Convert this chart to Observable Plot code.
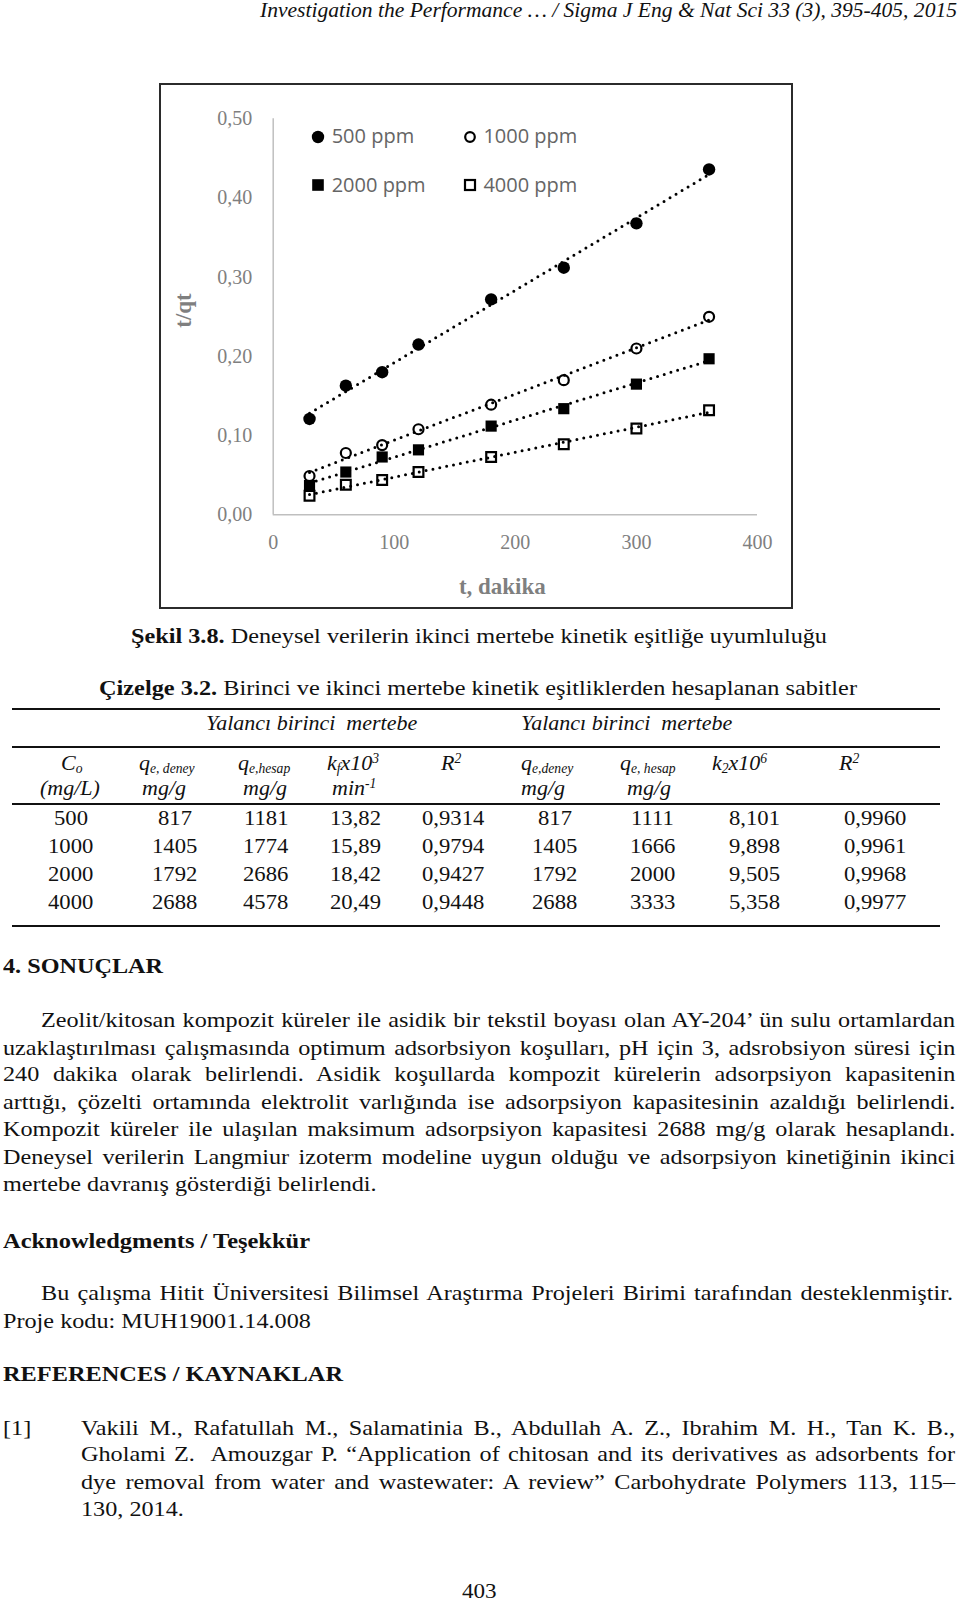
<!DOCTYPE html>
<html>
<head>
<meta charset="utf-8">
<script src="https://cdn.jsdelivr.net/npm/d3@7"></script>
<script src="https://cdn.jsdelivr.net/npm/@observablehq/plot@0.6"></script>
<style>
  html, body { margin:0; padding:0; background:#fff; }
  #page { position:relative; width:960px; height:1603px; overflow:hidden; background:#fff; color:#111; }
  .t { position:absolute; white-space:nowrap; }
  sub, sup { position:relative; vertical-align:baseline; line-height:0; font-size:0.62em; }
  sub { top:0.28em; }
  sup { top:-0.48em; }
  .rule { position:absolute; background:#111; }
  #frame { position:absolute; left:159px; top:83px; width:634px; height:526px; box-sizing:border-box; border:2px solid #2b2b2b; background:#fff; }
  #frame svg { position:absolute; left:0; top:0; }
</style>
</head>
<body>
<div id="page"><div id="frame"></div></div>
<script>
// ---------------- chart data ----------------
const times = [30, 60, 90, 120, 180, 240, 300, 360];
const series500 = [0.121, 0.163, 0.180, 0.215, 0.272, 0.312, 0.368, 0.436];
const series1000 = [0.049, 0.078, 0.088, 0.108, 0.139, 0.170, 0.210, 0.250];
const series2000 = [0.037, 0.054, 0.073, 0.082, 0.112, 0.134, 0.165, 0.197];
const series4000 = [0.024, 0.038, 0.044, 0.054, 0.073, 0.089, 0.109, 0.132];
const seriesNames = ["500 ppm", "1000 ppm", "2000 ppm", "4000 ppm"];
const xTicks = [0, 100, 200, 300, 400];
const yTicks = [0, 0.1, 0.2, 0.3, 0.4, 0.5];

// ---------------- table data ----------------
const tabCo = ["500", "1000", "2000", "4000"];
const tabQeDeney = ["817", "1405", "1792", "2688"];
const tabQeHesap1 = ["1181", "1774", "2686", "4578"];
const tabK1 = ["13,82", "15,89", "18,42", "20,49"];
const tabR2a = ["0,9314", "0,9794", "0,9427", "0,9448"];
const tabQeHesap2 = ["1111", "1666", "2000", "3333"];
const tabK2 = ["8,101", "9,898", "9,505", "5,358"];
const tabR2b = ["0,9960", "0,9961", "0,9968", "0,9977"];

const page = document.getElementById("page");
const SERIF = "'Liberation Serif','Times New Roman',serif";
const SANS = "'Open Sans','Noto Sans',sans-serif";
const STRETCH = 1.1;

function place(html, o) {
  const el = document.createElement("div");
  el.className = "t";
  el.innerHTML = html;
  const size = o.size || 22;
  const asc = o.asc || 0.8375;
  el.style.fontFamily = o.family || SERIF;
  el.style.fontSize = size + "px";
  el.style.lineHeight = size + "px";
  el.style.top = (o.baseline - asc * size) + "px";
  if (o.weight) el.style.fontWeight = o.weight;
  if (o.style) el.style.fontStyle = o.style;
  if (o.color) el.style.color = o.color;
  el.style.left = "0px";
  page.appendChild(el);
  let w = el.getBoundingClientRect().width;
  let sx = o.sx || 1;
  if (o.fit) sx = o.fit / w;
  if (sx !== 1) { el.style.transformOrigin = "0 0"; el.style.transform = `scaleX(${sx})`; }
  w = w * sx;
  let left;
  if (o.align === "center") left = o.x - w / 2;
  else if (o.align === "right") left = o.x - w;
  else left = o.x;
  el.style.left = left + "px";
  return el;
}

function justify(html, x0, x1, baseline, o = {}) {
  const el = place(html, Object.assign({x: x0, baseline}, o));
  const w = el.getBoundingClientRect().width; // unscaled (no transform yet)
  const n = (el.textContent.match(/[ \u00a0]/g) || []).length;
  const target = x1 - x0;
  let sx = Math.min(STRETCH, target / w);
  const rest = target / sx - w;
  if (rest > 0 && n) el.style.wordSpacing = (rest / n) + "px";
  el.style.transformOrigin = "0 0";
  el.style.transform = `scaleX(${sx})`;
  return el;
}

function rule(y, h, x0 = 12, x1 = 940) {
  const r = document.createElement("div");
  r.className = "rule";
  r.style.left = x0 + "px"; r.style.width = (x1 - x0) + "px";
  r.style.top = y + "px"; r.style.height = h + "px";
  page.appendChild(r);
}

// ---------------- chart ----------------
const seriesValues = [series500, series1000, series2000, series4000];
const rows = [];
seriesNames.forEach((name, s) => seriesValues[s].forEach((v, i) => rows.push({series: name, t: times[i], q: v})));
const of = name => rows.filter(d => d.series === name);

const chart = Plot.plot({
  width: 630,
  height: 522,
  marginLeft: 111.7,
  marginRight: 34,
  marginTop: 33.3,
  marginBottom: 92.7,
  x: {domain: [0, 400]},
  y: {domain: [0, 0.5]},
  style: {fontFamily: SERIF, fontSize: "20px", color: "#7f7f7f", background: "transparent", overflow: "visible"},
  marks: [
    Plot.ruleX([0], {y1: 0, y2: 0.5, stroke: "#bfbfbf", strokeWidth: 1.5}),
    Plot.ruleY([0], {x1: 0, x2: 400, stroke: "#bfbfbf", strokeWidth: 1.5}),
    Plot.axisX({ticks: xTicks, tickSize: 0, tickPadding: 20, tickFormat: d => String(d), label: null, fill: "#7f7f7f", fontSize: 20}),
    Plot.axisY({ticks: yTicks, tickSize: 0, tickPadding: 21, tickFormat: d => d.toFixed(2).replace(".", ","), label: null, fill: "#7f7f7f", fontSize: 20}),
    Plot.dot(of("500 ppm"), {x: "t", y: "q", symbol: "circle", r: 6.2, fill: "black", stroke: "none"}),
    Plot.dot(of("1000 ppm"), {x: "t", y: "q", symbol: "circle", r: 5, fill: "white", stroke: "black", strokeWidth: 2.2}),
    Plot.dot(of("2000 ppm"), {x: "t", y: "q", symbol: "square", r: 6.3, fill: "black", stroke: "none"}),
    Plot.dot(of("4000 ppm"), {x: "t", y: "q", symbol: "square", r: 5.5, fill: "white", stroke: "black", strokeWidth: 2.2}),
    Plot.linearRegressionY(rows, {x: "t", y: "q", z: "series", ci: 0, stroke: "black", strokeWidth: 3, strokeDasharray: "0 7", strokeLinecap: "round"}),
    Plot.text(["t/qt"], {frameAnchor: "left", textAnchor: "middle", lineAnchor: "middle", rotate: -90, dx: -89.4, dy: -6.3, fontWeight: "bold", fontSize: 23, fill: "#7f7f7f"}),
    Plot.text(["t, dakika"], {frameAnchor: "bottom", textAnchor: "middle", lineAnchor: "middle", dx: -13, dy: 71.7, fontWeight: "bold", fontSize: 23, fill: "#7f7f7f"})
  ]
});
document.getElementById("frame").appendChild(chart);

// legend (overlay)
const legendItems = [
  {name: seriesNames[0], cx: 318.3, cy: 136.7, svg: '<circle cx="8" cy="8" r="6.2" fill="#000"/>'},
  {name: seriesNames[1], cx: 470, cy: 136.7, svg: '<circle cx="8" cy="8" r="4.8" fill="#fff" stroke="#000" stroke-width="2.2"/>'},
  {name: seriesNames[2], cx: 318.3, cy: 185, svg: '<rect x="2.2" y="2.2" width="11.6" height="11.6" fill="#000"/>'},
  {name: seriesNames[3], cx: 470, cy: 185, svg: '<rect x="3" y="3" width="10" height="10" fill="#fff" stroke="#000" stroke-width="2.2"/>'}
];
legendItems.forEach(it => {
  const s = document.createElementNS("http://www.w3.org/2000/svg", "svg");
  s.setAttribute("width", 16); s.setAttribute("height", 16);
  s.style.position = "absolute"; s.style.left = (it.cx - 8) + "px"; s.style.top = (it.cy - 8) + "px";
  s.innerHTML = it.svg;
  page.appendChild(s);
  place(it.name, {x: it.cx + 13.4, baseline: it.cy + 7.3, size: 20, family: SANS, asc: 0.888, color: "#656565"});
});

// ---------------- page header ----------------
place("Investigation the Performance … / Sigma J Eng &amp; Nat Sci 33 (3), 395-405, 2015",
  {x: 260, baseline: 17, size: 20.5, style: "italic", fit: 697});

// caption
place("<b>Şekil 3.8.</b> Deneysel verilerin ikinci mertebe kinetik eşitliğe uyumluluğu",
  {x: 131, baseline: 643, size: 22, fit: 696});

// table title
place("<b>Çizelge 3.2.</b> Birinci ve ikinci mertebe kinetik eşitliklerden hesaplanan sabitler",
  {x: 99, baseline: 695, size: 22, fit: 758});

// table rules
rule(707.5, 2.2);
rule(745.5, 2.2);
rule(803, 1.6);
rule(925, 2.2);

// group headers
place("Yalancı birinci &nbsp;mertebe", {x: 206, baseline: 730, size: 22, style: "italic"});
place("Yalancı birinci &nbsp;mertebe", {x: 521, baseline: 730, size: 22, style: "italic"});

// column headers
const H1 = 770, H2 = 795;
place("C<sub>o</sub>", {x: 61, baseline: H1, style: "italic"});
place("(mg/L)", {x: 40, baseline: H2, style: "italic"});
place("q<sub>e, deney</sub>", {x: 139, baseline: H1, style: "italic"});
place("mg/g", {x: 142, baseline: H2, style: "italic"});
place("q<sub>e,hesap</sub>", {x: 238, baseline: H1, style: "italic"});
place("mg/g", {x: 243, baseline: H2, style: "italic"});
place("k<sub>f</sub>x10<sup>3</sup>", {x: 327, baseline: H1, style: "italic"});
place("min<sup>-1</sup>", {x: 332, baseline: H2, style: "italic"});
place("R<sup>2</sup>", {x: 441, baseline: H1, style: "italic"});
place("q<sub>e,deney</sub>", {x: 521, baseline: H1, style: "italic"});
place("mg/g", {x: 521, baseline: H2, style: "italic"});
place("q<sub>e, hesap</sub>", {x: 620, baseline: H1, style: "italic"});
place("mg/g", {x: 627, baseline: H2, style: "italic"});
place("k<sub>2</sub>x10<sup>6</sup>", {x: 712, baseline: H1, style: "italic"});
place("R<sup>2</sup>", {x: 839, baseline: H1, style: "italic"});

// table body
const colCenters = [71, 174.5, 266, 355.5, 453, 555, 652.5, 754.5, 875];
const cols = [tabCo, tabQeDeney, tabQeHesap1, tabK1, tabR2a, tabQeDeney, tabQeHesap2, tabK2, tabR2b];
const rowBase = [825, 853.3, 881.5, 909.3];
cols.forEach((col, c) => col.forEach((v, r) => place(v, {x: colCenters[c], baseline: rowBase[r], size: 22, align: "center", sx: 1.03})));

// ---------------- section 4 ----------------
place("4. SONUÇLAR", {x: 3.3, baseline: 973, size: 22, weight: "bold", fit: 160});
const para = [
  "Zeolit/kitosan kompozit küreler ile asidik bir tekstil boyası olan AY-204’ ün sulu ortamlardan",
  "uzaklaştırılması çalışmasında optimum adsorbsiyon koşulları, pH için 3, adsrobsiyon süresi için",
  "240 dakika olarak belirlendi. Asidik koşullarda kompozit kürelerin adsorpsiyon kapasitenin",
  "arttığı, çözelti ortamında elektrolit varlığında ise adsorpsiyon kapasitesinin azaldığı belirlendi.",
  "Kompozit küreler ile ulaşılan maksimum adsorpsiyon kapasitesi 2688 mg/g olarak hesaplandı.",
  "Deneysel verilerin Langmiur izoterm modeline uygun olduğu ve adsorpsiyon kinetiğinin ikinci"
];
const paraBase = [1027.3, 1055, 1081.7, 1109.3, 1136.7, 1164];
para.forEach((line, i) => justify(line, i === 0 ? 41 : 2.7, 955, paraBase[i], {size: 22}));
place("mertebe davranış gösterdiği belirlendi.", {x: 2.7, baseline: 1191.7, size: 22, sx: STRETCH});

// acknowledgments
place("Acknowledgments / Teşekkür", {x: 3, baseline: 1248.3, size: 22, weight: "bold", fit: 307});
justify("Bu çalışma Hitit Üniversitesi Bilimsel Araştırma Projeleri Birimi tarafından desteklenmiştir.", 41, 953, 1300, {size: 22});
place("Proje kodu: MUH19001.14.008", {x: 2.7, baseline: 1328.3, size: 22, sx: STRETCH});

// references
place("REFERENCES / KAYNAKLAR", {x: 3, baseline: 1381.7, size: 22, weight: "bold", fit: 340});
place("[1]", {x: 3.3, baseline: 1435, size: 22, sx: STRETCH});
const refs = [
  "Vakili M., Rafatullah M., Salamatinia B., Abdullah A. Z., Ibrahim M. H., Tan K. B.,",
  "Gholami Z.&nbsp; Amouzgar P. “Application of chitosan and its derivatives as adsorbents for",
  "dye removal from water and wastewater: A review” Carbohydrate Polymers 113, 115–"
];
const refBase = [1435, 1461.7, 1489.3];
refs.forEach((line, i) => justify(line, 81, 955, refBase[i], {size: 22}));
place("130, 2014.", {x: 81, baseline: 1516, size: 22, sx: STRETCH});

// page number
place("403", {x: 479, baseline: 1598, size: 22, align: "center", sx: 1.05});
</script>
</body>
</html>
